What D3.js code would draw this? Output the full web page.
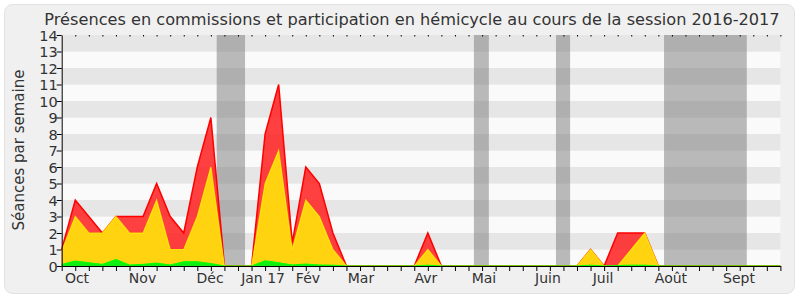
<!DOCTYPE html>
<html><head><meta charset="utf-8">
<script src="https://cdn.jsdelivr.net/npm/d3@7"></script>
<style>body{margin:0;background:#fff}svg{display:block}</style>
</head><body>
<svg id="c" width="800" height="300"></svg>
<script>
// ---- data (week index 0..53) ----
const weeks = d3.range(0, 54);
const totalRed = [1,4,3,2,3,3,3,5,3,2,6,9,0,0,0,8,11,1.4,6,5,2,0,0,0,0,0,0,2,0,0,0,0,0,0,0,0,0,0,0,1,0,2,2,2,0,0,0,0,0,0,0,0,0,0];
const yellowVals = [0.9,3,2,2,3,2,2,4,1,1,3,6,0,0,0,5,7,1,4,3,1,0,0,0,0,0,0,1,0,0,0,0,0,0,0,0,0,0,0,1,0,0,1,2,0,0,0,0,0,0,0,0,0,0];
const greenVals = [0.1,0.3,0.2,0.1,0.4,0.06,0.1,0.18,0.06,0.26,0.26,0.15,0,0,0,0.32,0.2,0.06,0.12,0.06,0.05,0,0,0,0,0,0,0.05,0,0,0,0,0,0,0,0,0,0,0,0.05,0,0.03,0.05,0.05,0,0,0,0,0,0,0,0,0,0];
const monthLabels = ["Oct","Nov","Déc","Jan 17","Fév","Mar","Avr","Mai","Juin","Juil","Août","Sept"];
const monthPos = [1.13,5.96,10.94,14.85,18.16,22.07,26.86,31.14,35.86,39.92,44.93,49.95];
const holidays = [[11.43,13.52],[30.4,31.5],[36.45,37.49],[44.42,50.52]];
const yTicks = d3.range(0, 15);
const title = "Présences en commissions et participation en hémicycle au cours de la session 2016-2017";
const yTitle = "Séances par semaine";

const svg = d3.select("#c");
const L = 61.7, R = 780.4, T = 35, B = 266;
const x = d3.scaleLinear().domain([0, 53]).range([L, R]);
const y = d3.scaleLinear().domain([0, 14]).range([B, T]);
const font = "DejaVu Sans, sans-serif";

svg.append("rect").attr("x",4.5).attr("y",4.5).attr("width",790).attr("height",289).attr("rx",8)
  .attr("fill","#f0f0f0").attr("stroke","#e2e2e2");

// stripes
svg.append("g").selectAll("rect").data(d3.range(0,14)).join("rect")
  .attr("x", L).attr("width", R - L)
  .attr("y", d => y(d + 1)).attr("height", d => y(d) - y(d + 1))
  .attr("fill", d => d % 2 === 1 ? "#e6e6e6" : "#fafafa");

// holidays
svg.append("g").selectAll("rect").data(holidays).join("rect")
  .attr("x", d => x(d[0])).attr("width", d => x(d[1]) - x(d[0]))
  .attr("y", T).attr("height", B - T)
  .attr("fill", "rgba(120,120,120,0.5)");

const area = vals => d3.area().x(i => x(i)).y0(y(0)).y1(i => y(vals[i]))(weeks);
const line = vals => d3.line().x(i => x(i)).y(i => y(vals[i]))(weeks);

svg.append("path").attr("d", area(totalRed)).attr("fill", "rgba(255,30,30,0.85)");
svg.append("path").attr("d", line(totalRed)).attr("fill", "none").attr("stroke", "#ff0000").attr("stroke-width", 1.5);
svg.append("path").attr("d", area(yellowVals)).attr("fill", "#ffd30f");
svg.append("path").attr("d", line(yellowVals)).attr("fill", "none").attr("stroke", "rgba(255,255,0,0.7)").attr("stroke-width", 1.2);
svg.append("path").attr("d", area(greenVals)).attr("fill", "#11ee11");
svg.append("path").attr("d", line(greenVals)).attr("fill", "none").attr("stroke", "#00ff00").attr("stroke-width", 1);

// axes
const xAxis = svg.append("g").attr("transform", `translate(0,${B})`)
  .call(d3.axisBottom(x).tickValues(weeks).tickSize(5).tickSizeOuter(0).tickFormat(""));
xAxis.select(".domain").attr("stroke", "#000");
xAxis.selectAll(".tick line").attr("stroke", "#000");

const topAxis = svg.append("g").attr("transform", `translate(0,${T})`)
  .call(d3.axisBottom(x).tickValues(weeks.slice(1)).tickSize(1.5).tickSizeOuter(0).tickFormat(""));
topAxis.select(".domain").remove();

const yAxis = svg.append("g").attr("transform", `translate(${L},0)`)
  .call(d3.axisLeft(y).tickValues(yTicks).tickSize(5).tickSizeOuter(0));
yAxis.select(".domain").attr("stroke", "#000");
yAxis.selectAll(".tick text").attr("font-family", font).attr("font-size", 14.5).attr("fill", "#333").attr("x", -4).attr("dy","0.36em");

svg.append("g").selectAll("text").data(monthLabels).join("text")
  .attr("x", (d, i) => x(monthPos[i])).attr("y", 283)
  .attr("text-anchor", "middle").attr("font-family", font).attr("font-size", 14).attr("fill", "#333")
  .text(d => d);

const t = svg.append("text").attr("x", 412).attr("y", 25).attr("text-anchor", "middle")
  .attr("font-family", font).attr("font-size", 16).attr("fill", "#333").text(title);
const w = t.node().getComputedTextLength();
t.attr("font-size", 16 * 736 / w);

svg.append("text").attr("transform", "translate(24,150) rotate(-90)").attr("text-anchor", "middle")
  .attr("font-family", font).attr("font-size", 15).attr("fill", "#333").text(yTitle);
</script>
</body></html>
